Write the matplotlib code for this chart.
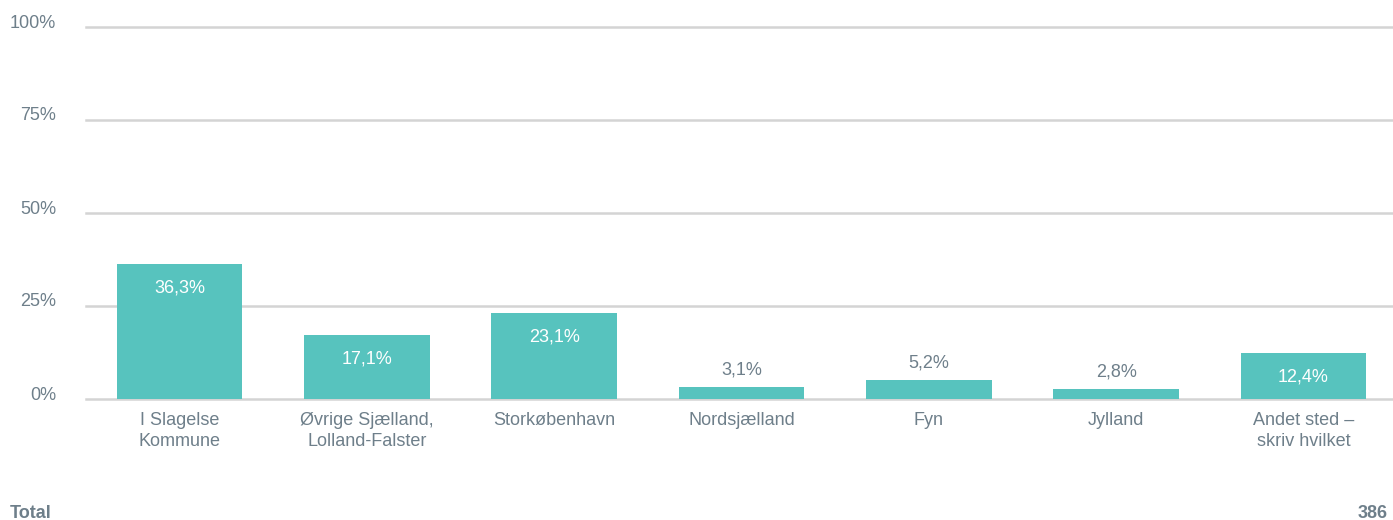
"""
Bar chart: share of respondents by region (Total n=386)
"""

import matplotlib
matplotlib.use("Agg")
import matplotlib.pyplot as plt
import matplotlib.transforms as mtransforms

categories = ["I Slagelse\nKommune", "Øvrige Sjælland,\nLolland-Falster", "Storkøbenhavn",
              "Nordsjælland", "Fyn", "Jylland", "Andet sted –\nskriv hvilket"]
values = [36.3, 17.1, 23.1, 3.1, 5.2, 2.8, 12.4]
y_ticks = [0, 25, 50, 75, 100]
total_n = 386

BAR_COLOR = "#57c3be"
TEXT_COLOR = "#6e7f8a"
GRID_COLOR = "#d4d4d4"
FS = 13

plt.rcParams["font.family"] = ["Liberation Sans", "DejaVu Sans"]

fig = plt.figure(figsize=(13.93, 5.2), dpi=100)
ax = fig.add_axes([86 / 1393, 1 - 399 / 520, (1397 - 86) / 1393, (399 - 27) / 520])

x = list(range(len(categories)))
ax.bar(x, values, width=0.67, color=BAR_COLOR, zorder=3)

ax.set_xlim(-0.5, len(categories) - 0.5)
ax.set_ylim(0, 100)

# gridlines
for t in y_ticks:
    ax.axhline(t, color=GRID_COLOR, linewidth=1.8, zorder=1, clip_on=False)

# y tick labels, nudged a bit above the gridline
lift = mtransforms.ScaledTranslation(0, 4 / 100, fig.dpi_scale_trans)
tick_trans = mtransforms.blended_transform_factory(fig.transFigure, ax.transData) + lift
for t in y_ticks:
    ax.text(56 / 1393, t, f"{t}%", transform=tick_trans, ha="right", va="center",
            fontsize=FS, color=TEXT_COLOR)

ax.set_yticks([])
ax.set_xticks([])
for s in ax.spines.values():
    s.set_visible(False)

# value labels
px = 100 / 372  # percent per pixel
for i, v in enumerate(values):
    label = f"{v:.1f}%".replace(".", ",")
    if v >= 10:
        ax.text(i, v - 24 * px, label, ha="center", va="center", fontsize=FS,
                color="white", zorder=4)
    else:
        ax.text(i, v + 17 * px, label, ha="center", va="center", fontsize=FS,
                color=TEXT_COLOR, zorder=4)

# category labels
for i, c in enumerate(categories):
    ax.text(i, -13 * px, c, ha="center", va="top", fontsize=FS, color=TEXT_COLOR,
            linespacing=1.3)

fig.text(10 / 1393, 1 - 513 / 520, "Total", ha="left", va="center", fontsize=FS,
         fontweight="bold", color=TEXT_COLOR)
fig.text(1388 / 1393, 1 - 513 / 520, str(total_n), ha="right", va="center", fontsize=FS,
         fontweight="bold", color=TEXT_COLOR)

fig.savefig("out.png", dpi=100, facecolor="white")
